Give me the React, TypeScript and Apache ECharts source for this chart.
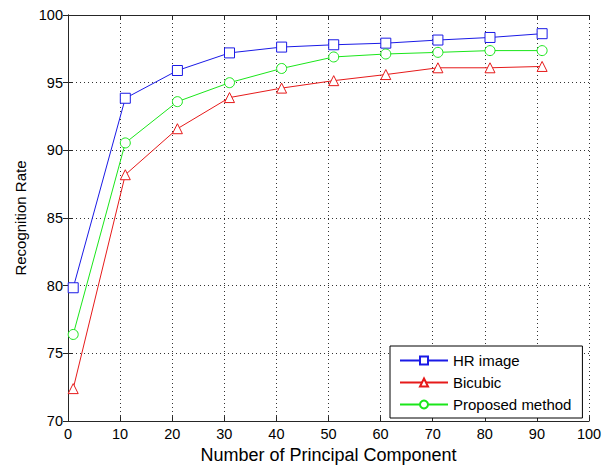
import React, { useEffect, useRef } from "react";
import * as echarts from "echarts";

const components = [1, 11, 21, 31, 41, 51, 61, 71, 81, 91];
const hrImage = [79.85, 93.85, 95.9, 97.2, 97.63, 97.8, 97.92, 98.15, 98.34, 98.62];
const bicubic = [72.4, 88.2, 91.6, 93.9, 94.6, 95.15, 95.6, 96.1, 96.1, 96.2];
const proposed = [76.4, 90.55, 93.6, 95.0, 96.05, 96.9, 97.12, 97.24, 97.37, 97.37];
const xTicks = { min: 0, max: 100, interval: 10 };
const yTicks = { min: 70, max: 100, interval: 5 };

const FONT = "'Liberation Sans', Arial, sans-serif";
const AXIS_COLOR = "#262626";

function pairs(ys: number[]) {
  return components.map((x, i) => [x, ys[i]]);
}

export default function App() {
  const ref = useRef<HTMLDivElement>(null);

  useEffect(() => {
    if (!ref.current) return;
    const chart = echarts.init(ref.current, undefined, { renderer: "svg" });
    const mkSeries = (name: string, data: number[], color: string, symbol: string) => ({
      name,
      type: "line",
      data: pairs(data),
      symbol,
      symbolSize: 10,
      showAllSymbol: true,
      lineStyle: { color, width: 1 },
      itemStyle: { color: "#ffffff", borderColor: color, borderWidth: 1 },
      emphasis: { disabled: true },
      z: 3,
    });
    const tickCommon = {
      show: true,
      inside: true,
      length: 5,
      lineStyle: { color: AXIS_COLOR, width: 1 },
    };
    chart.setOption({
      animation: false,
      backgroundColor: "#ffffff",
      textStyle: { fontFamily: FONT },
      grid: { left: 68, right: 16, top: 15, bottom: 44, containLabel: false },
      legend: {
        orient: "vertical",
        left: 390,
        top: 346,
        padding: [7, 11, 6, 9],
        itemWidth: 48,
        itemHeight: 10,
        itemGap: 7,
        backgroundColor: "#ffffff",
        borderColor: "#000000",
        borderWidth: 1,
        borderRadius: 0,
        textStyle: { fontSize: 15, color: "#000", fontFamily: FONT, lineHeight: 15 },
        selectedMode: false,
        data: ["HR image", "Bicubic", "Proposed method"],
      },
      xAxis: [
        {
          type: "value",
          ...xTicks,
          position: "bottom",
          name: "Number of Principal Component",
          nameLocation: "middle",
          nameGap: 23,
          nameTextStyle: { fontSize: 18, color: "#000", fontFamily: FONT },
          axisLine: { show: true, lineStyle: { color: AXIS_COLOR, width: 1 } },
          axisTick: tickCommon,
          axisLabel: { fontSize: 14.5, color: "#000", margin: 5, fontFamily: FONT },
          splitLine: { show: true, lineStyle: { color: "#333", type: [1, 3], width: 1 } },
        },
        {
          type: "value",
          ...xTicks,
          position: "top",
          axisLine: { show: true, lineStyle: { color: AXIS_COLOR, width: 1 } },
          axisTick: tickCommon,
          axisLabel: { show: false },
          splitLine: { show: false },
        },
      ],
      yAxis: [
        {
          type: "value",
          ...yTicks,
          position: "left",
          name: "Recognition Rate",
          nameLocation: "middle",
          nameGap: 40,
          nameRotate: 90,
          nameTextStyle: { fontSize: 15, color: "#000", fontFamily: FONT },
          axisLine: { show: true, lineStyle: { color: AXIS_COLOR, width: 1 } },
          axisTick: tickCommon,
          axisLabel: { fontSize: 14.5, color: "#000", margin: 5, fontFamily: FONT },
          splitLine: { show: true, lineStyle: { color: "#333", type: [1, 3], width: 1 } },
        },
        {
          type: "value",
          ...yTicks,
          position: "right",
          axisLine: { show: true, lineStyle: { color: AXIS_COLOR, width: 1 } },
          axisTick: tickCommon,
          axisLabel: { show: false },
          splitLine: { show: false },
        },
      ],
      series: [
        mkSeries("HR image", hrImage, "#1a1ae6", "rect"),
        mkSeries("Bicubic", bicubic, "#e61a1a", "triangle"),
        mkSeries("Proposed method", proposed, "#1ae61a", "circle"),
      ],
    });
    return () => chart.dispose();
  }, []);

  return (
    <div
      ref={ref}
      style={{ position: "fixed", left: 0, top: 0, width: 605, height: 469, background: "#fff" }}
    />
  );
}
